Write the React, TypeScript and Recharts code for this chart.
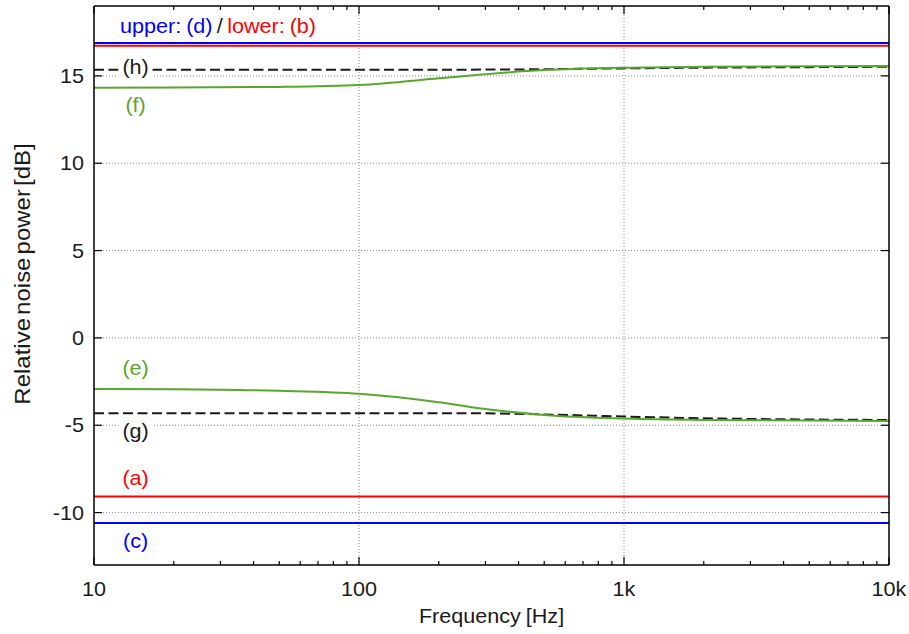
import React from 'react';
import { LineChart, Line, XAxis, YAxis, ReferenceLine, ReferenceDot } from 'recharts';

// ---- data ----
const freqPoints = [10, 20, 50, 100, 200, 300, 500, 1000, 2000, 5000, 10000];
const seriesF = [14.32, 14.33, 14.37, 14.48, 14.86, 15.1, 15.33, 15.47, 15.52, 15.55, 15.56];
const seriesH = [15.35, 15.35, 15.35, 15.35, 15.35, 15.36, 15.38, 15.43, 15.47, 15.5, 15.52];
const seriesE = [-2.92, -2.94, -3.03, -3.2, -3.68, -4.07, -4.41, -4.62, -4.7, -4.73, -4.75];
const seriesG = [-4.31, -4.31, -4.31, -4.31, -4.31, -4.32, -4.38, -4.5, -4.6, -4.67, -4.7];

const endFreqs = [10, 10000];
const levelD = [16.88, 16.88];
const levelB = [16.72, 16.72];
const levelA = [-9.08, -9.08];
const levelC = [-10.6, -10.6];

const majorFreqTicks = [10, 100, 1000, 10000];
const majorFreqLabels = ['10', '100', '1k', '10k'];
const minorFreqTicks = [20, 30, 40, 50, 60, 70, 80, 90, 200, 300, 400, 500, 600, 700, 800, 900, 2000, 3000, 4000, 5000, 6000, 7000, 8000, 9000];
const dbTicks = [-10, -5, 0, 5, 10, 15];
const gridFreqs = [100, 1000];

const annotationTexts = ['(h)', '(f)', '(e)', '(g)', '(a)', '(c)'];
const annotationFreq = 14.35;
const annotationLevels = [15.42, 13.2, -1.86, -5.44, -8.11, -11.74];
const annotationColors = ['#1a1a1a', '#58a62c', '#58a62c', '#1a1a1a', '#ff0000', '#0000ff'];
const annotationMasked = [true, false, false, true, false, false];

const titleParts = ['upper: (d)', '/', 'lower: (b)'];
const titleColors = ['#0000ff', '#1a1a1a', '#ff0000'];
const titleFreq = 12.54;
const titleLevel = 17.78;

// ---- helpers ----
const FONT = "'Liberation Sans', Arial, Helvetica, sans-serif";
const FS = 20;
const SX = 1.08;
const GREEN = '#58a62c';

const mainRows = freqPoints.map((f, i) => ({ f, F: seriesF[i], H: seriesH[i], E: seriesE[i], G: seriesG[i] }));
const flatRows = (levels: number[]) => endFreqs.map((f, i) => ({ f, v: levels[i] }));
const allFreqTicks = [...majorFreqTicks, ...minorFreqTicks].sort((a, b) => a - b);

function SText({ x, y, anchor, fill, children, wordSpacing }: any) {
  return (
    <g transform={`translate(${x},${y}) scale(${SX},1)`}>
      <text x={0} y={0} textAnchor={anchor} fontSize={FS} fontFamily={FONT} fill={fill || '#1a1a1a'} wordSpacing={wordSpacing}>
        {children}
      </text>
    </g>
  );
}

const BottomTick = (props: any) => {
  const { x, y, payload } = props;
  const idx = majorFreqTicks.indexOf(payload.value);
  const major = idx >= 0;
  return (
    <g>
      <line x1={x} x2={x} y1={y} y2={y - (major ? 8 : 4)} stroke="#000" strokeWidth={1.2} />
      {major && <SText x={x} y={y + 31} anchor="middle">{majorFreqLabels[idx]}</SText>}
    </g>
  );
};

const TopTick = (props: any) => {
  const { x, y, payload } = props;
  const major = majorFreqTicks.indexOf(payload.value) >= 0;
  return <line x1={x} x2={x} y1={y} y2={y + (major ? 8 : 4)} stroke="#000" strokeWidth={1.2} />;
};

const LeftTick = (props: any) => {
  const { x, y, payload } = props;
  return (
    <g>
      <line x1={x} x2={x + 8} y1={y} y2={y} stroke="#000" strokeWidth={1.2} />
      <SText x={x - 10} y={y + 7} anchor="end">{String(payload.value)}</SText>
    </g>
  );
};

const RightTick = (props: any) => {
  const { x, y } = props;
  return <line x1={x} x2={x - 8} y1={y} y2={y} stroke="#000" strokeWidth={1.2} />;
};

const XTitle = (props: any) => {
  const vb = props.viewBox;
  return <SText x={vb.x + vb.width / 2} y={vb.y + 58} anchor="middle" wordSpacing={-1}>Frequency [Hz]</SText>;
};

const YTitle = (props: any) => {
  const vb = props.viewBox;
  const cy = vb.y + 268;
  return (
    <g transform={`translate(30,${cy}) rotate(-90) scale(1.2,${SX})`}>
      <text x={0} y={0} textAnchor="middle" fontSize={FS} fontFamily={FONT} fill="#1a1a1a" wordSpacing={-3}>
        Relative noise power [dB]
      </text>
    </g>
  );
};

const makeAnnotation = (i: number) => (props: any) => {
  const { cx, cy } = props;
  return (
    <g>
      {annotationMasked[i] && <rect x={cx - 17} y={cy - 10} width={34} height={20} fill="#fff" />}
      <SText x={cx} y={cy + 5} anchor="middle" fill={annotationColors[i]}>{annotationTexts[i]}</SText>
    </g>
  );
};

const TitleShape = (props: any) => {
  const { cx, cy } = props;
  return (
    <g transform={`translate(${cx},${cy + 6}) scale(${SX},1)`}>
      <text x={0} y={0} textAnchor="start" fontSize={FS} fontFamily={FONT} wordSpacing={-1}>
        {titleParts.map((p, i) => (
          <tspan key={i} fill={titleColors[i]} dx={i === 0 ? 0 : 4}>{p}</tspan>
        ))}
      </text>
    </g>
  );
};

export default function App() {
  return (
    <div style={{ position: 'absolute', left: 0, top: 0, background: '#fff' }}>
      <LineChart width={909} height={634} data={mainRows} margin={{ top: 0, right: 0, bottom: 39, left: 34 }}>
        <XAxis
          xAxisId="b" dataKey="f" type="number" scale="log" domain={[10, 10000]} allowDataOverflow
          ticks={allFreqTicks} interval={0} tickSize={0} tickMargin={0} tickLine={false}
          tick={BottomTick} height={30} axisLine={{ stroke: '#000', strokeWidth: 1.5 }}
          label={{ content: XTitle }}
        />
        <XAxis
          xAxisId="t" orientation="top" dataKey="f" type="number" scale="log" domain={[10, 10000]} allowDataOverflow
          ticks={allFreqTicks} interval={0} tickSize={0} tickMargin={0} tickLine={false}
          tick={TopTick} height={6} axisLine={{ stroke: '#000', strokeWidth: 1.5 }}
        />
        <YAxis
          yAxisId="l" type="number" domain={[-13, 19]} allowDataOverflow ticks={dbTicks} interval={0}
          tickSize={0} tickMargin={0} tickLine={false} tick={LeftTick} width={60}
          axisLine={{ stroke: '#000', strokeWidth: 1.5 }} label={{ content: YTitle }}
        />
        <YAxis
          yAxisId="r" orientation="right" type="number" domain={[-13, 19]} allowDataOverflow ticks={dbTicks} interval={0}
          tickSize={0} tickMargin={0} tickLine={false} tick={RightTick} width={20}
          axisLine={{ stroke: '#000', strokeWidth: 1.5 }}
        />

        {gridFreqs.map((f) => (
          <ReferenceLine key={'gx' + f} xAxisId="b" yAxisId="l" x={f} stroke="#888" strokeWidth={1} strokeDasharray="1 2" />
        ))}
        {dbTicks.map((v) => (
          <ReferenceLine key={'gy' + v} xAxisId="b" yAxisId="l" y={v} stroke="#888" strokeWidth={1} strokeDasharray="1 2" />
        ))}

        <Line xAxisId="b" yAxisId="l" data={flatRows(levelD)} dataKey="v" stroke="#0000ff" strokeWidth={2} dot={false} isAnimationActive={false} />
        <Line xAxisId="b" yAxisId="l" data={flatRows(levelB)} dataKey="v" stroke="#ff0000" strokeWidth={2} dot={false} isAnimationActive={false} />
        <Line xAxisId="b" yAxisId="l" data={flatRows(levelA)} dataKey="v" stroke="#ff0000" strokeWidth={2} dot={false} isAnimationActive={false} />
        <Line xAxisId="b" yAxisId="l" data={flatRows(levelC)} dataKey="v" stroke="#0000ff" strokeWidth={2} dot={false} isAnimationActive={false} />
        <Line xAxisId="b" yAxisId="l" type="monotone" dataKey="H" stroke="#1a1a1a" strokeWidth={2} strokeDasharray="10 4.5" dot={false} isAnimationActive={false} />
        <Line xAxisId="b" yAxisId="l" type="monotone" dataKey="G" stroke="#1a1a1a" strokeWidth={2} strokeDasharray="10 4.5" dot={false} isAnimationActive={false} />
        <Line xAxisId="b" yAxisId="l" type="monotone" dataKey="F" stroke={GREEN} strokeWidth={2} dot={false} isAnimationActive={false} />
        <Line xAxisId="b" yAxisId="l" type="monotone" dataKey="E" stroke={GREEN} strokeWidth={2} dot={false} isAnimationActive={false} />

        {annotationTexts.map((t, i) => (
          <ReferenceDot key={t} xAxisId="b" yAxisId="l" x={annotationFreq} y={annotationLevels[i]} r={0} shape={makeAnnotation(i)} />
        ))}
        <ReferenceDot xAxisId="b" yAxisId="l" x={titleFreq} y={titleLevel} r={0} shape={TitleShape} />
      </LineChart>
    </div>
  );
}
